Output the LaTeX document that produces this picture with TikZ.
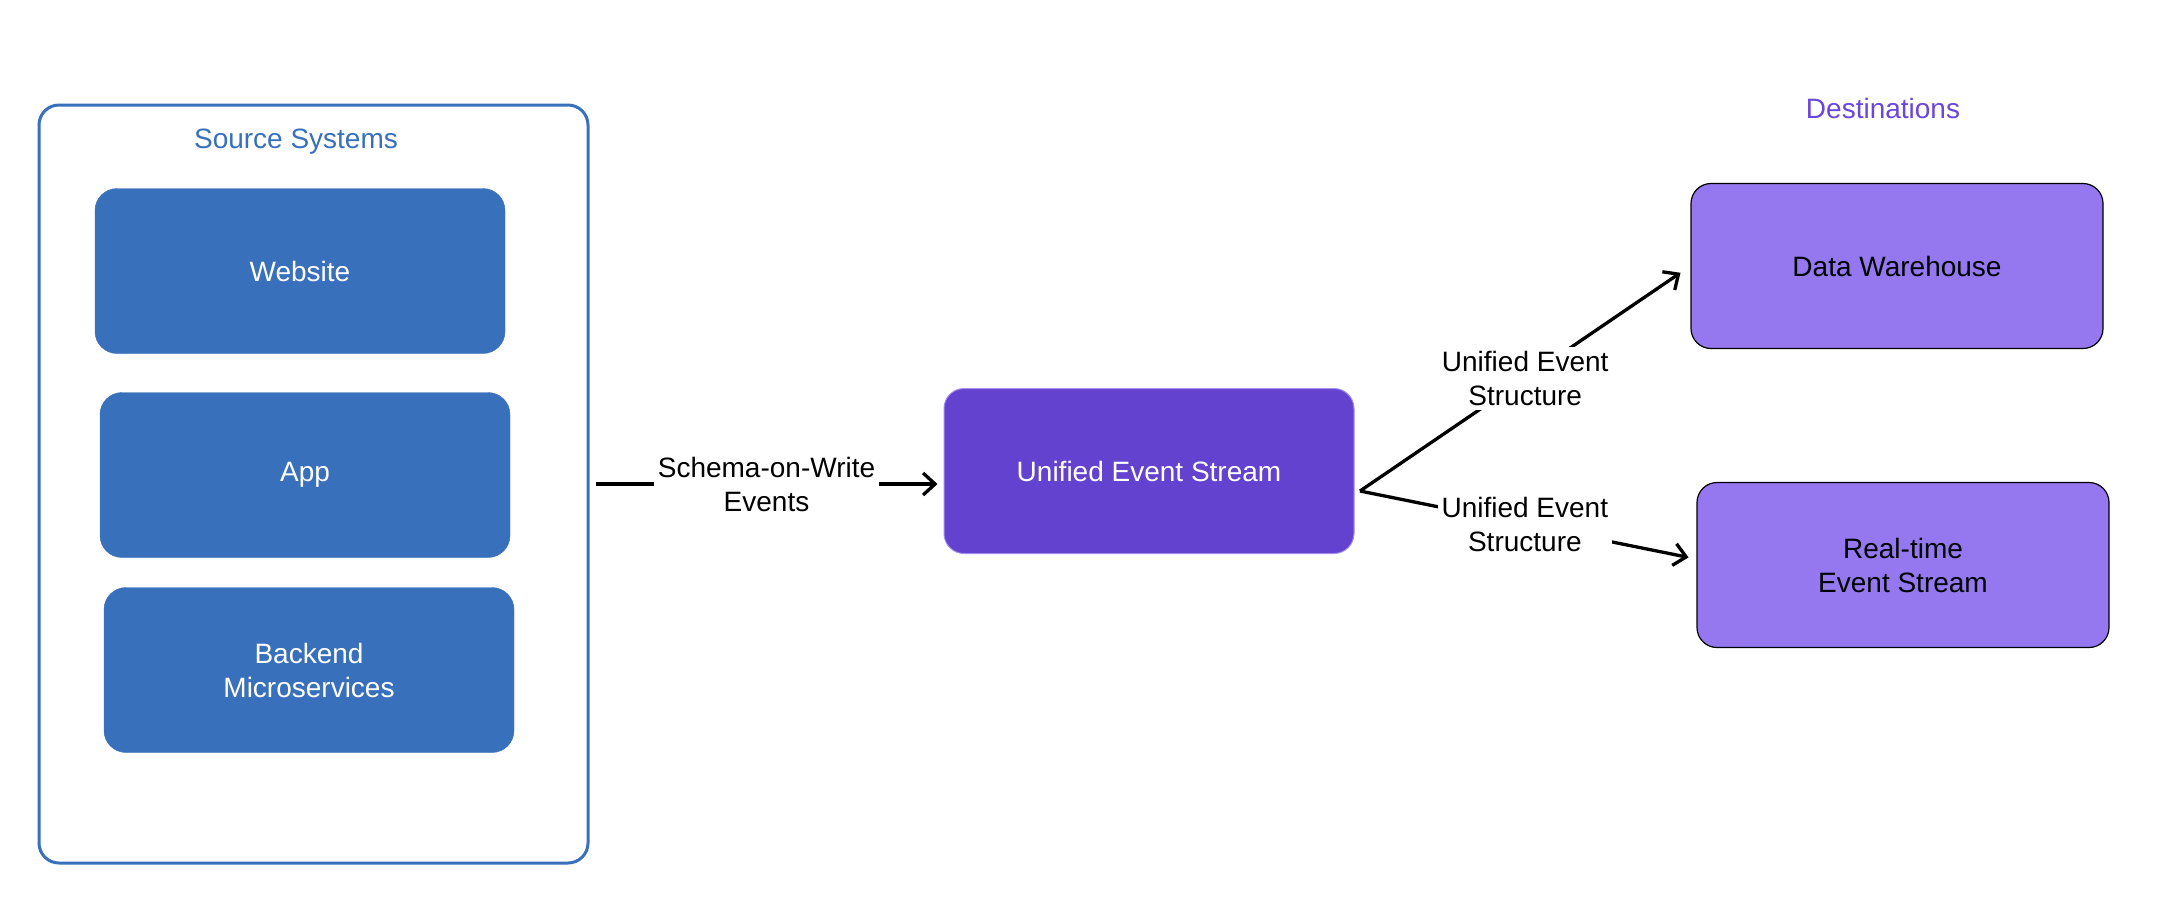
\documentclass[tikz,border=0pt]{standalone}
\usepackage{fontspec}
\setmainfont{Liberation Sans}
\usetikzlibrary{arrows.meta}
\definecolor{srcblue}{HTML}{3870BC}
\definecolor{uespurple}{HTML}{6342D0}
\definecolor{uesedge}{HTML}{A48FF0}
\definecolor{destpurple}{HTML}{9578F0}
\definecolor{desttext}{HTML}{6A46DC}
\begin{document}
\begin{tikzpicture}[x=1pt,y=-1pt,
  txt/.style={font=\fontsize{28}{34}\selectfont, align=center},
  container/.style={draw=srcblue, line width=3pt, rounded corners=20pt, fill=white},
  srcbox/.style={txt, fill=srcblue, draw=srcblue, text=white, rounded corners=22pt, minimum width=410pt, minimum height=165pt, inner sep=0pt},
  uesbox/.style={txt, fill=uespurple, draw=uesedge, line width=1pt, text=white, rounded corners=20pt, minimum width=410pt, minimum height=165pt, inner sep=0pt},
  destbox/.style={txt, fill=destpurple, draw=black, line width=1.2pt, text=black, rounded corners=20pt, minimum width=412pt, minimum height=165pt, inner sep=0pt},
  title/.style={txt},
  lbl/.style={txt, fill=white, inner sep=4pt},
  arr/.style={draw=black, line width=3.3pt, -{Straight Barb[length=12pt,width=22pt,line width=3.3pt]}}
]
\useasboundingbox (0,0) rectangle (2166,922);
\fill[white] (0,0) rectangle (2166,922);

% source container
\node[container, minimum width=549pt, minimum height=758pt, inner sep=0pt] (src) at (313.5,484) {};
\node[title, text=srcblue] (srct) at (296,142) {Source Systems};
\node[srcbox] (web) at (300,271) {Website};
\node[srcbox] (app) at (305,475) {App};
\node[srcbox] (back) at (309,670) {Backend\\Microservices};

% unified event stream
\node[uesbox] (ues) at (1149,471) {Unified Event Stream};

% destinations
\node[title, text=desttext] (destt) at (1883,108) {Destinations};
\node[destbox] (dw) at (1897,266) {Data Warehouse};
\node[destbox] (rt) at (1903,565) {Real-time\\Event Stream};

% connectors
\draw[arr, shorten <=6pt, shorten >=6pt] (src.east) -- node[lbl] (l1) {Schema-on-Write\\Events} (src.east -| ues.west);
\coordinate (fork) at (1360,491);
\draw[arr, shorten >=12pt] (fork) -- node[lbl, pos=0.5] (l2) {Unified Event\\Structure} (dw.west);
\draw[arr, shorten >=8pt] (fork) -- node[lbl, pos=0.49] (l3) {Unified Event\\Structure} ([yshift=6pt]rt.west);
\end{tikzpicture}
\end{document}
